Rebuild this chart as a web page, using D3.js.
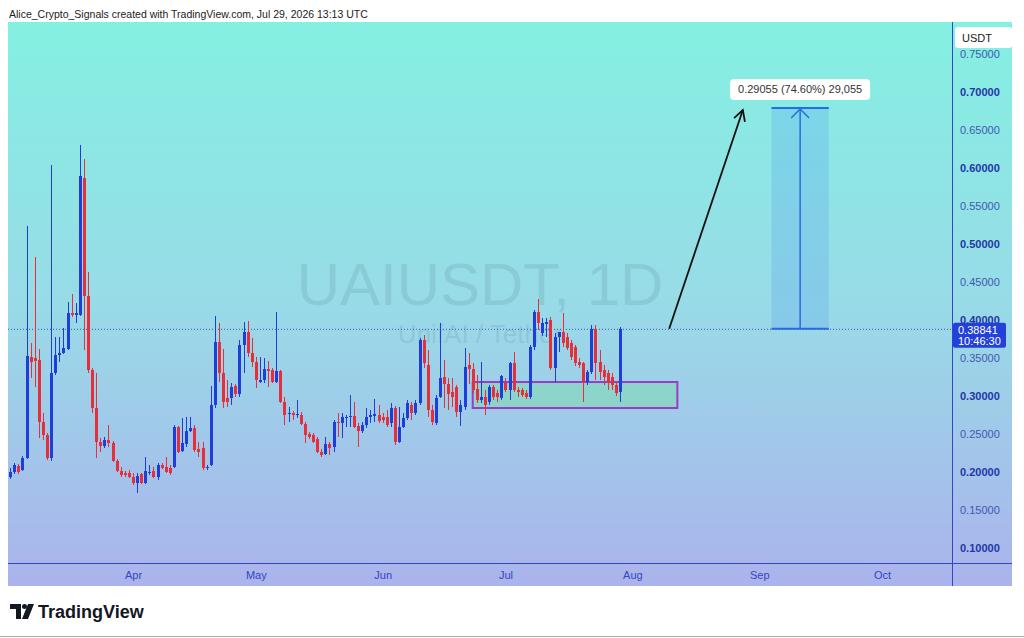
<!DOCTYPE html>
<html>
<head>
<meta charset="utf-8">
<script src="https://cdn.jsdelivr.net/npm/d3@7"></script>
<style>
  body { margin: 0; background: #fff; }
  svg { display: block; font-family: "Liberation Sans", Arial, sans-serif; }
</style>
</head>
<body>
<script>
// daily candles UAIUSDT, first one is Mar 2 2026
const firstDay = "2026-03-02";
const opens = [
  .1934,.2000,.2079,.2026,.2184,.3513,.3500,.3474,.2658,.2487,
  .2184,.3303,.3539,.3566,.3618,.4092,.4066,.4066,.5868,.4316,
  .3342,.2842,.2395,.2342,.2421,.2382,.2145,.2013,.1987,.1987,
  .1934,.1855,.1974,.1855,.1987,.2013,.1934,.2092,.2066,.2053,
  .2066,.2592,.2276,.2368,.2539,.2579,.2303,.2316,.2053,.2092,
  .2882,.3711,.3303,.2974,.2974,.3132,.3026,.3671,.3842,.3566,
  .3447,.3184,.3211,.3355,.3342,.3184,.3329,.2921,.2763,.2776,
  .2750,.2750,.2632,.2500,.2487,.2434,.2263,.2237,.2368,.2329,
  .2658,.2645,.2711,.2724,.2737,.2605,.2539,.2618,.2724,.2737,
  .2750,.2724,.2724,.2645,.2842,.2395,.2592,.2711,.2882,.2776,
  .2908,.3737,.3408,.2816,.2645,.2987,.3250,.3158,.3053,.3118,
  .2789,.2855,.3408,.3355,.3092,.2947,.2987,.2921,.3118,.3039,
  .2974,.3171,.3079,.3434,.3079,.3079,.3039,.2987,.3645,.4105,
  .3829,.3947,.4000,.3368,.3776,.3842,.3776,.3697,.3645,.3447,
  .3434,.3184,.3316,.3882,.3447,.3342,.3303,.3250,.3145,.3053
];
const highs = [
  .2053,.2118,.2105,.2211,.5237,.3697,.4829,.3618,.2776,.2513,
  .6039,.3776,.3776,.3895,.4237,.4342,.4224,.6303,.6118,.4632,
  .3368,.3303,.2447,.2461,.2618,.2408,.2171,.2066,.2013,.2026,
  .1987,.1987,.1987,.2197,.2092,.2066,.2118,.2118,.2197,.2092,
  .2618,.2605,.2711,.2724,.2724,.2618,.2395,.2395,.2092,.3132,
  .4053,.3961,.3618,.3211,.3171,.3158,.3737,.3974,.3987,.3763,
  .3513,.3513,.3500,.3461,.3368,.4105,.3342,.2987,.2855,.2803,
  .2947,.2789,.2658,.2526,.2513,.2461,.2303,.2461,.2395,.2684,
  .2776,.2776,.2750,.3013,.2921,.2645,.2658,.2842,.2816,.2961,
  .2882,.2776,.2816,.2908,.2868,.2855,.2776,.2947,.2921,.2947,
  .3763,.3803,.3605,.2882,.3013,.3961,.3474,.3237,.3237,.3145,
  .2947,.3632,.3566,.3434,.3276,.3447,.3079,.3145,.3145,.3079,
  .3276,.3237,.3447,.3579,.3118,.3105,.3079,.3671,.4132,.4276,
  .4026,.4026,.4039,.3829,.3842,.4092,.3829,.3737,.3671,.3500,
  .3447,.3342,.3934,.3934,.3605,.3408,.3342,.3303,.3184,.3908
];
const lows = [
  .1908,.1974,.1974,.2013,.2171,.3237,.3118,.2447,.2421,.2158,
  .2145,.3276,.3447,.3553,.3605,.4039,.3961,.4053,.3605,.3303,
  .2776,.2184,.2263,.2316,.2329,.2132,.2000,.1934,.1934,.1921,
  .1829,.1724,.1842,.1842,.1961,.1921,.1895,.2039,.1987,.1961,
  .2053,.2250,.2263,.2329,.2526,.2263,.2197,.2026,.2026,.2079,
  .2842,.3184,.2842,.2855,.2882,.2987,.2987,.3303,.3513,.3382,
  .3105,.3171,.3171,.3118,.3171,.3171,.2908,.2618,.2658,.2684,
  .2711,.2618,.2382,.2434,.2382,.2250,.2197,.2224,.2224,.2263,
  .2461,.2447,.2592,.2592,.2579,.2329,.2513,.2579,.2645,.2658,
  .2645,.2645,.2592,.2592,.2355,.2382,.2579,.2684,.2684,.2750,
  .2882,.3368,.2724,.2618,.2618,.2974,.2842,.2816,.2855,.2724,
  .2605,.2816,.3158,.3039,.2908,.2908,.2750,.2882,.2947,.2921,
  .2947,.3053,.2947,.3053,.2987,.2987,.2961,.2961,.3605,.3868,
  .3789,.3776,.3342,.3184,.3579,.3645,.3605,.3474,.3395,.3368,
  .2921,.3145,.3289,.3211,.3211,.3145,.3079,.3079,.3000,.2921
];
const closes = [
  .2000,.2092,.2000,.2184,.3526,.3447,.3461,.2658,.2487,.2184,
  .3303,.3539,.3566,.3632,.4092,.4066,.4092,.5895,.4316,.3342,
  .2842,.2395,.2342,.2421,.2382,.2145,.2013,.1961,.1961,.1934,
  .1855,.1947,.1855,.2013,.2000,.1934,.2092,.2053,.2000,.1987,
  .2592,.2263,.2382,.2539,.2579,.2289,.2263,.2053,.2066,.2882,
  .3711,.3303,.2921,.2921,.3118,.3026,.3671,.3842,.3566,.3447,
  .3211,.3211,.3355,.3329,.3184,.3329,.2921,.2750,.2776,.2750,
  .2763,.2632,.2487,.2461,.2395,.2263,.2224,.2368,.2316,.2658,
  .2645,.2724,.2724,.2737,.2592,.2539,.2618,.2724,.2750,.2763,
  .2671,.2684,.2618,.2842,.2395,.2592,.2711,.2908,.2776,.2908,
  .3737,.3434,.2816,.2658,.2974,.3237,.3158,.3026,.2987,.2789,
  .2882,.3382,.3355,.3079,.2947,.2987,.2882,.3118,.2987,.2987,
  .3263,.3079,.3434,.3079,.3053,.3013,.2987,.3645,.4105,.3961,
  .3961,.3974,.3368,.3776,.3842,.3697,.3632,.3513,.3434,.3408,
  .3184,.3316,.3882,.3434,.3316,.3250,.3184,.3145,.3039,.38841
];

const priceTicks = [0.10,0.15,0.20,0.25,0.30,0.35,0.40,0.45,0.50,0.55,0.60,0.65,0.70,0.75];
const lastPrice = 0.38841;
const countdown = "10:46:30";

// drawings on the chart
const zoneDates = ["2026-06-23", "2026-08-12"];
const zonePrices = [0.2842, 0.3184];
const arrowDates = ["2026-08-10", "2026-08-28"];
const arrowPrices = [0.3884, 0.6763];
const rangeDates = ["2026-09-04", "2026-09-18"];
const rangePrices = [0.38841, 0.67896];
const rangeLabel = "0.29055 (74.60%) 29,055";

const W = 1024, H = 638;
const padL = 8, plotR = 952, padR = 1012, padT = 22, plotB = 563, padB = 586;

const day0 = new Date(firstDay + "T00:00:00Z");
const candles = closes.map((c, i) => ({
  date: d3.utcDay.offset(day0, i), o: opens[i], h: highs[i], l: lows[i], c: c
}));

const x = d3.scaleUtc()
  .domain([new Date("2026-04-01T00:00:00Z"), new Date("2026-10-01T00:00:00Z")])
  .range([133, 882]);
const y = d3.scaleLinear().domain([0.10, 0.70]).range([548, 92]);
const dt = s => new Date(s + "T00:00:00Z");

const svg = d3.select("body").append("svg").attr("width", W).attr("height", H);
const defs = svg.append("defs");
const grad = defs.append("linearGradient").attr("id", "bg")
  .attr("x1", 0).attr("y1", 0).attr("x2", 0).attr("y2", 1);
grad.append("stop").attr("offset", 0).attr("stop-color", "#84f0e2");
grad.append("stop").attr("offset", 0.5).attr("stop-color", "#98dbe7");
grad.append("stop").attr("offset", 1).attr("stop-color", "#abb3ec");
defs.append("clipPath").attr("id", "plot").append("rect")
  .attr("x", padL).attr("y", padT).attr("width", plotR - padL).attr("height", plotB - padT);

// header
svg.append("text").attr("x", 9).attr("y", 18).attr("font-size", 10.5).attr("fill", "#222")
  .text("Alice_Crypto_Signals created with TradingView.com, Jul 29, 2026 13:13 UTC");

svg.append("rect").attr("x", padL).attr("y", padT).attr("width", padR - padL).attr("height", padB - padT)
  .attr("fill", "url(#bg)");

// watermark
svg.append("text").attr("x", 480).attr("y", 305).attr("text-anchor", "middle")
  .attr("font-size", 60).attr("fill", "#4f7488").attr("fill-opacity", 0.17).text("UAIUSDT, 1D");
svg.append("text").attr("x", 480).attr("y", 343).attr("text-anchor", "middle")
  .attr("font-size", 26).attr("fill", "#4f7488").attr("fill-opacity", 0.17).text("UnifAI / Tether");

const plot = svg.append("g").attr("clip-path", "url(#plot)");

// support zone
plot.append("rect")
  .attr("x", x(dt(zoneDates[0]))).attr("width", x(dt(zoneDates[1])) - x(dt(zoneDates[0])))
  .attr("y", y(zonePrices[1])).attr("height", y(zonePrices[0]) - y(zonePrices[1]))
  .attr("fill", "#7fd9b0").attr("fill-opacity", 0.55)
  .attr("stroke", "#9a3cc8").attr("stroke-width", 2);

// last price line
plot.append("line").attr("x1", padL).attr("x2", plotR)
  .attr("y1", y(lastPrice) + 0.5).attr("y2", y(lastPrice) + 0.5)
  .attr("stroke", "#3c4fc0").attr("stroke-dasharray", "1,2");

// candles
const up = "#1f3ed8", down = "#e5303c";
const cg = plot.append("g").selectAll("g").data(candles).join("g")
  .attr("fill", d => d.c >= d.o ? up : down)
  .attr("stroke", d => d.c >= d.o ? up : down);
cg.append("line")
  .attr("x1", d => Math.round(x(d.date)) + 0.5).attr("x2", d => Math.round(x(d.date)) + 0.5)
  .attr("y1", d => y(d.h)).attr("y2", d => y(d.l)).attr("stroke-width", 1);
cg.append("rect")
  .attr("x", d => Math.round(x(d.date)) - 1).attr("width", 3)
  .attr("y", d => y(Math.max(d.o, d.c)))
  .attr("height", d => Math.max(1, Math.abs(y(d.o) - y(d.c))))
  .attr("stroke", "none");

// trend arrow
const ax1 = x(dt(arrowDates[0])), ay1 = y(arrowPrices[0]);
const ax2 = x(dt(arrowDates[1])), ay2 = y(arrowPrices[1]);
plot.append("line").attr("x1", ax1).attr("y1", ay1).attr("x2", ax2).attr("y2", ay2)
  .attr("stroke", "#111").attr("stroke-width", 1.8);
const ang = Math.atan2(ay2 - ay1, ax2 - ax1);
const head = [ang + Math.PI - 0.5, ang + Math.PI + 0.5].map(a => [ax2 + 12 * Math.cos(a), ay2 + 12 * Math.sin(a)]);
plot.append("path")
  .attr("d", `M${head[0]}L${ax2},${ay2}L${head[1]}`)
  .attr("fill", "none").attr("stroke", "#111").attr("stroke-width", 1.8);

// price range tool
const rx1 = x(dt(rangeDates[0])), rx2 = x(dt(rangeDates[1]));
const ry1 = y(rangePrices[0]), ry2 = y(rangePrices[1]);
const rxm = (rx1 + rx2) / 2;
plot.append("rect").attr("x", rx1).attr("width", rx2 - rx1).attr("y", ry2).attr("height", ry1 - ry2)
  .attr("fill", "#4b90f0").attr("fill-opacity", 0.22);
[ry1, ry2].forEach(v => plot.append("line").attr("x1", rx1).attr("x2", rx2).attr("y1", v).attr("y2", v)
  .attr("stroke", "#2a6ae0").attr("stroke-width", 2));
plot.append("line").attr("x1", rxm).attr("x2", rxm).attr("y1", ry1).attr("y2", ry2 + 1)
  .attr("stroke", "#2a6ae0").attr("stroke-width", 1.5);
plot.append("path").attr("d", `M${rxm - 9},${ry2 + 10}L${rxm},${ry2 + 1}L${rxm + 9},${ry2 + 10}`)
  .attr("fill", "none").attr("stroke", "#2a6ae0").attr("stroke-width", 1.5);
svg.append("rect").attr("x", rxm - 70).attr("y", ry2 - 29).attr("width", 140).attr("height", 21).attr("rx", 4)
  .attr("fill", "#fff");
svg.append("text").attr("x", rxm).attr("y", ry2 - 14.5).attr("text-anchor", "middle")
  .attr("font-size", 11).attr("fill", "#333").text(rangeLabel);

// frame lines
svg.append("line").attr("x1", plotR + 0.5).attr("x2", plotR + 0.5).attr("y1", padT).attr("y2", padB)
  .attr("stroke", "#3446c8");
svg.append("line").attr("x1", padL).attr("x2", padR).attr("y1", plotB + 0.5).attr("y2", plotB + 0.5)
  .attr("stroke", "#3446c8");

// price axis (0.40000 sits partly under the last-price tag, as in the original)
const yAxis = svg.append("g").attr("transform", `translate(${plotR},0)`)
  .call(d3.axisRight(y).tickValues(priceTicks).tickSize(0).tickPadding(8).tickFormat(d => d.toFixed(5)));
yAxis.select(".domain").remove();
yAxis.selectAll("text")
  .attr("font-family", "Liberation Sans, Arial, sans-serif").attr("font-size", 11)
  .attr("fill", d => Math.round(d * 100) % 10 === 0 ? "#2236a8" : "#3f58b0")
  .attr("font-weight", d => Math.round(d * 100) % 10 === 0 ? "bold" : "normal");

// time axis
const xAxis = svg.append("g").attr("transform", `translate(0,${plotB})`)
  .call(d3.axisBottom(x).ticks(d3.utcMonth.every(1)).tickSize(0).tickPadding(8)
    .tickFormat(d3.utcFormat("%b")));
xAxis.select(".domain").remove();
xAxis.selectAll(".tick").filter(d => x(d) < padL + 20 || x(d) > plotR - 20).remove();
xAxis.selectAll("text")
  .attr("font-family", "Liberation Sans, Arial, sans-serif").attr("font-size", 11)
  .attr("fill", "#3446c0");

// currency box
svg.append("rect").attr("x", 955).attr("y", 27).attr("width", 57).attr("height", 21).attr("rx", 3).attr("fill", "#fff");
svg.append("text").attr("x", 962).attr("y", 41.5).attr("font-size", 11).attr("fill", "#222").text("USDT");

// last price label
const ly = y(lastPrice);
svg.append("rect").attr("x", plotR + 1).attr("y", ly - 6).attr("width", 53).attr("height", 25)
  .attr("rx", 2).attr("fill", "#2340d8");
svg.append("text").attr("x", 958).attr("y", ly + 5).attr("font-size", 11).attr("fill", "#fff").text(lastPrice.toFixed(5));
svg.append("text").attr("x", 958).attr("y", ly + 16.5).attr("font-size", 11).attr("fill", "#fff").text(countdown);

// footer logo
const logo = svg.append("g").attr("fill", "#131722");
logo.append("path").attr("d", "M10,604H21V619H16V609H10Z");
logo.append("circle").attr("cx", 24.5).attr("cy", 606.5).attr("r", 2.5);
logo.append("path").attr("d", "M28,604H34L28,619H22Z");
svg.append("text").attr("x", 38).attr("y", 618).attr("font-size", 18).attr("font-weight", 600)
  .attr("fill", "#131722").text("TradingView");
svg.append("line").attr("x1", 0).attr("x2", W).attr("y1", 636.5).attr("y2", 636.5).attr("stroke", "#aaa");
</script>
</body>
</html>
